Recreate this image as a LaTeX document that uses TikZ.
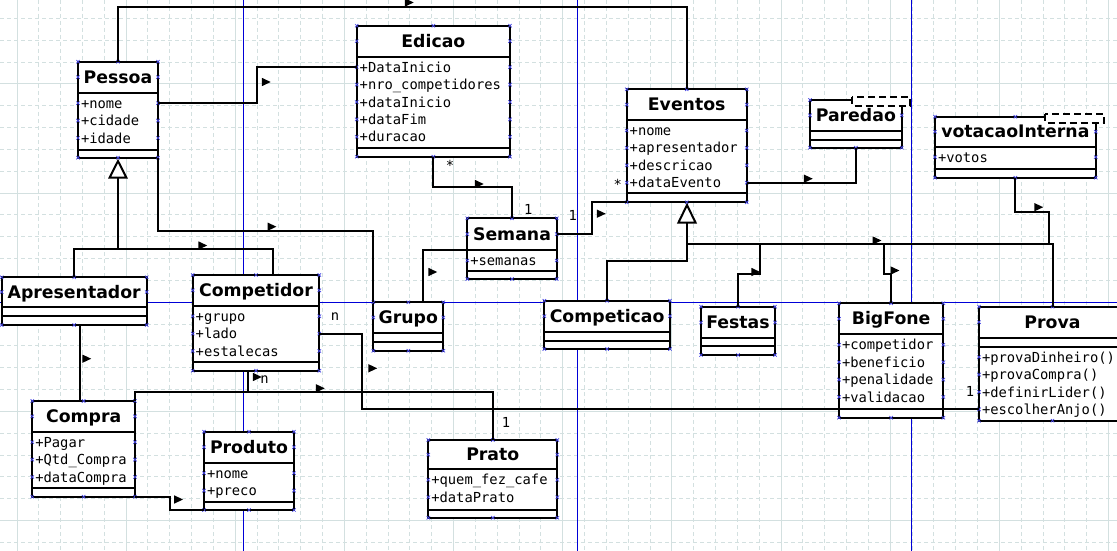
\documentclass[tikz,border=0pt]{standalone}
\usepackage{fontspec}
\setmainfont{DejaVu Sans}
\newfontfamily\monofont{DejaVu Sans Mono}
\usetikzlibrary{calc}
\definecolor{gridc}{RGB}{211,224,224}
\definecolor{pagec}{RGB}{0,0,215}
\definecolor{cptc}{RGB}{70,70,230}
\tikzset{
  clsbox/.style={draw=black, line width=2pt, fill=white, rectangle, inner sep=0pt, outer sep=0pt},
  sepline/.style={draw=black, line width=2pt},
  ttl/.style={font=\fontsize{17.3}{20}\selectfont\bfseries, inner sep=0pt, anchor=base},
  attrtxt/.style={font=\fontsize{13.8}{16}\selectfont\monofont, inner sep=0pt, anchor=base west},
  lbl/.style={font=\fontsize{13.8}{16}\selectfont\monofont, inner sep=0pt, anchor=base},
  conn/.style={draw=black, line width=2pt},
  cpx/.style={draw=cptc, line width=0.7pt},
  tmpl/.style={draw=black, line width=2pt, dash pattern=on 7pt off 4pt, fill=white},
  gen/.style={draw=black, line width=2pt, fill=white},
  gridminor/.style={draw=gridc, line width=1pt, dash pattern=on 4pt off 3pt},
  gridmajor/.style={draw=gridc, line width=1pt},
  pageline/.style={draw=pagec, line width=1pt},
}
\newcommand{\cpmark}[2]{\draw[cpx] ({#1},{#2}) +(-1.7,-1.7) -- +(1.7,1.7) +(-1.7,1.7) -- +(1.7,-1.7);}
\newcommand{\umlcls}[8]{%
  \node[clsbox, minimum width={#3-#2}, minimum height={#7-#4}, anchor=north west] (#1) at (#2,#4) {};
  \draw[sepline] (#2,#5) -- (#3,#5);
  \draw[sepline] (#2,#6) -- (#3,#6);
  \node[ttl] (#1-title) at ({(#2+#3)/2},{(#4+#5)/2+6}) {#8};
  \coordinate (#1-TL) at (#2,{(#4+#5)/2});
  \coordinate (#1-TR) at (#3,{(#4+#5)/2});
  \cpmark{#2}{#4}\cpmark{#3}{#4}\cpmark{#2}{#7}\cpmark{#3}{#7}%
  \cpmark{(#2+#3)/2}{#4}\cpmark{(#2+#3)/2}{#7}%
  \cpmark{#2}{(#4+#5)/2}\cpmark{#3}{(#4+#5)/2}%
}
\newcommand{\umlattr}[5]{%
  \node[attrtxt] (#1) at ({#2+2.8},{#4}) {#5};
  \coordinate (#1-L) at (#2,{#4-5});
  \coordinate (#1-R) at (#3,{#4-5});
  \cpmark{#2}{#4-5}\cpmark{#3}{#4-5}%
}
\newcommand{\dirmark}[2]{\fill[black] ({#1-4.2},{#2-4.2}) -- ({#1-4.2},{#2+4.2}) -- ({#1+4.7},{#2}) -- cycle;}
\begin{document}
\begin{tikzpicture}[x=1pt,y=-1pt]
\useasboundingbox (0,0) rectangle (1117,551);
\clip (0,0) rectangle (1117,551);
\fill[white] (0,0) rectangle (1117,551);
% grid
\foreach \i in {0,...,52}{
  \pgfmathsetmacro\xx{17+21.83*(\i-1)}
  \pgfmathtruncatemacro\mm{mod(\i+4,5)}
  \ifnum\mm=0 \draw[gridmajor] (\xx,0) -- (\xx,551); \else \draw[gridminor] (\xx,0) -- (\xx,551); \fi
}
\foreach \j in {0,...,26}{
  \pgfmathsetmacro\yy{84+21.83*(\j-4)}
  \pgfmathtruncatemacro\mm{mod(\j+1,5)}
  \ifnum\mm=0 \draw[gridmajor] (0,\yy) -- (1117,\yy); \else \draw[gridminor] (0,\yy) -- (1117,\yy); \fi
}
% page breaks
\draw[pageline] (243.5,0) -- (243.5,551);
\draw[pageline] (577.5,0) -- (577.5,551);
\draw[pageline] (911.5,0) -- (911.5,551);
\draw[pageline] (0,302.5) -- (1117,302.5);

% classes
\umlcls{Pessoa}{78}{158}{61.7}{92.7}{150}{157.7}{Pessoa}
\umlattr{pnome}{78}{158}{108.2}{+nome}
\umlattr{pcidade}{78}{158}{125.6}{+cidade}
\umlattr{pidade}{78}{158}{143.0}{+idade}

\umlcls{Edicao}{356.7}{510}{25.7}{56.7}{147.7}{156.7}{Edicao}
\umlattr{edi1}{356.7}{510}{72.2}{+DataInicio}
\umlattr{edi2}{356.7}{510}{89.6}{+nro\_competidores}
\umlattr{edi3}{356.7}{510}{107.0}{+dataInicio}
\umlattr{edi4}{356.7}{510}{124.4}{+dataFim}
\umlattr{edi5}{356.7}{510}{141.8}{+duracao}

\umlcls{Eventos}{626.7}{746.7}{89.3}{120}{193.3}{202.3}{Eventos}
\umlattr{even1}{626.7}{746.7}{135.5}{+nome}
\umlattr{even2}{626.7}{746.7}{152.9}{+apresentador}
\umlattr{even3}{626.7}{746.7}{170.3}{+descricao}
\umlattr{even4}{626.7}{746.7}{187.7}{+dataEvento}

\umlcls{Paredao}{810}{901.7}{100}{130.7}{140}{147.7}{Paredao}
\draw[tmpl] (852.3,97.3) rectangle (910,106);

\umlcls{votacaoInterna}{935}{1095.7}{116.7}{146.7}{169}{177.7}{votacaoInterna}
\umlattr{vot1}{935}{1095.7}{162.2}{+votos}
\draw[tmpl] (1045,114.3) rectangle (1104,122.7);

\umlcls{Semana}{467.3}{556.7}{218.3}{250}{270.7}{279}{Semana}
\umlattr{sem1}{467.3}{556.7}{265.5}{+semanas}

\umlcls{Grupo}{373.3}{443.3}{302.3}{332.7}{341.7}{350.7}{Grupo}
\umlcls{Competicao}{544.3}{670}{300.7}{331.7}{340.7}{349}{Competicao}
\umlcls{Festas}{701}{775}{306.7}{338.3}{345.7}{355}{Festas}

\umlcls{BigFone}{839}{943.3}{303.3}{334.3}{409}{417.7}{BigFone}
\umlattr{big1}{839}{943.3}{349.8}{+competidor}
\umlattr{big2}{839}{943.3}{367.2}{+beneficio}
\umlattr{big3}{839}{943.3}{384.6}{+penalidade}
\umlattr{big4}{839}{943.3}{402.0}{+validacao}

\umlcls{Prova}{979}{1126}{306.7}{337.7}{346.7}{420.7}{Prova}
\umlattr{prova1}{979}{1126}{362.2}{+provaDinheiro()}
\umlattr{prova2}{979}{1126}{379.6}{+provaCompra()}
\umlattr{prova3}{979}{1126}{397.0}{+definirLider()}
\umlattr{prova4}{979}{1126}{414.4}{+escolherAnjo()}

\umlcls{Apresentador}{1.7}{146.7}{277.3}{306.7}{316}{325}{Apresentador}

\umlcls{Competidor}{192.7}{319.3}{275}{305.7}{361.7}{370.7}{Competidor}
\umlattr{comp1}{192.7}{319.3}{321.2}{+grupo}
\umlattr{comp2}{192.7}{319.3}{338.6}{+lado}
\umlattr{comp3}{192.7}{319.3}{356.0}{+estalecas}

\umlcls{Compra}{32.3}{135}{401}{431.7}{487.7}{496.7}{Compra}
\umlattr{compra1}{32.3}{135}{447.2}{+Pagar}
\umlattr{compra2}{32.3}{135}{464.6}{+Qtd\_Compra}
\umlattr{compra3}{32.3}{135}{482.0}{+dataCompra}

\umlcls{Produto}{204}{294}{431.7}{462.7}{502.3}{510}{Produto}
\umlattr{prod1}{204}{294}{478.2}{+nome}
\umlattr{prod2}{204}{294}{495.6}{+preco}

\umlcls{Prato}{428.3}{557.3}{440}{469.3}{510}{517.7}{Prato}
\umlattr{prato1}{428.3}{557.3}{484.8}{+quem\_fez\_cafe}
\umlattr{prato2}{428.3}{557.3}{502.2}{+dataPrato}

% connectors
\draw[conn] (Pessoa.north) -- ++(0,-55) -| (Eventos.north);
\draw[conn] (pnome-R) -- ++(98.7,0) |- (edi1-L);
\draw[conn] (Pessoa.south east) -- ++(0,73) -| (Grupo.north west);
\draw[conn] (Edicao.south) -- ++(0,30.6) -| (Semana.north);
\draw[conn] (Semana-TR) -- ++(35,0) |- (Eventos.south west);
\draw[conn] (even4-R) -| (Paredao.south);
\draw[conn] ([yshift=-31.7pt]Semana.north west) -| ([xshift=49.4pt]Grupo.north west);

\coordinate (g1) at (118,177.5);
\coordinate (g1j) at (118,249.3);
\draw[conn] (g1) -- (g1j);
\draw[conn] (Apresentador.north) |- (g1j) -| ([xshift=17.3pt]Competidor.north);
\draw[gen] (118,161) -- (126.3,177.5) -- (109.7,177.5) -- cycle;

\coordinate (g2) at (687,222.5);
\coordinate (bus) at (687,244.3);
\coordinate (jf) at (760,244.3);
\coordinate (jb) at (884,244.3);
\coordinate (jv) at (1049,244.3);
\draw[conn] (g2) -- ++(0,38.2) -| (Competicao.north);
\draw[conn] (bus) -| (Prova.north);
\draw[conn] (jf) -- ++(0,30) -| (Festas.north);
\draw[conn] (jb) -- ++(0,30) -| (BigFone.north);
\draw[conn] (votacaoInterna.south) -- ++(0,34) -| (jv);
\draw[gen] (687,205) -- (695.5,222.5) -- (678.5,222.5) -- cycle;

\draw[conn] (comp2-R) -- ++(43,0) |- (prova4-L);
\draw[conn] (Compra.north east) -- ++(0,-9.3) -| (Prato.north);
\coordinate (jc) at (248.3,391.7);
\draw[conn] ([xshift=-7.7pt]Competidor.south) -- (jc);
\draw[conn] ([xshift=5.8pt]Apresentador.south) -- ([xshift=-3.65pt]Compra.north);
\draw[conn] (Compra.south east) -- ++(35,0) |- (Produto.south west);

% direction markers
\dirmark{409}{2.5}
\dirmark{266}{82}
\dirmark{202.5}{245.5}
\dirmark{271.7}{226.7}
\dirmark{479}{184}
\dirmark{601}{213.7}
\dirmark{808}{178.7}
\dirmark{432.5}{272}
\dirmark{876.7}{240.5}
\dirmark{755.5}{272}
\dirmark{894.7}{270.5}
\dirmark{1038.5}{207.2}
\dirmark{372.5}{368.3}
\dirmark{257}{377}
\dirmark{320}{388.3}
\dirmark{86.5}{358.7}
\dirmark{178.3}{499.5}

% multiplicities
\node[lbl] (lstar1) at (450,170) {*};
\node[lbl] (lone1) at (528.3,214) {1};
\node[lbl] (lone2) at (572.7,220) {1};
\node[lbl] (lstar2) at (617.7,189) {*};
\node[lbl] (ln1) at (335,320.7) {n};
\node[lbl] (ln2) at (264.5,383) {n};
\node[lbl] (lone3) at (506,427.3) {1};
\node[lbl] (lone4) at (970,396.7) {1};
\end{tikzpicture}
\end{document}
